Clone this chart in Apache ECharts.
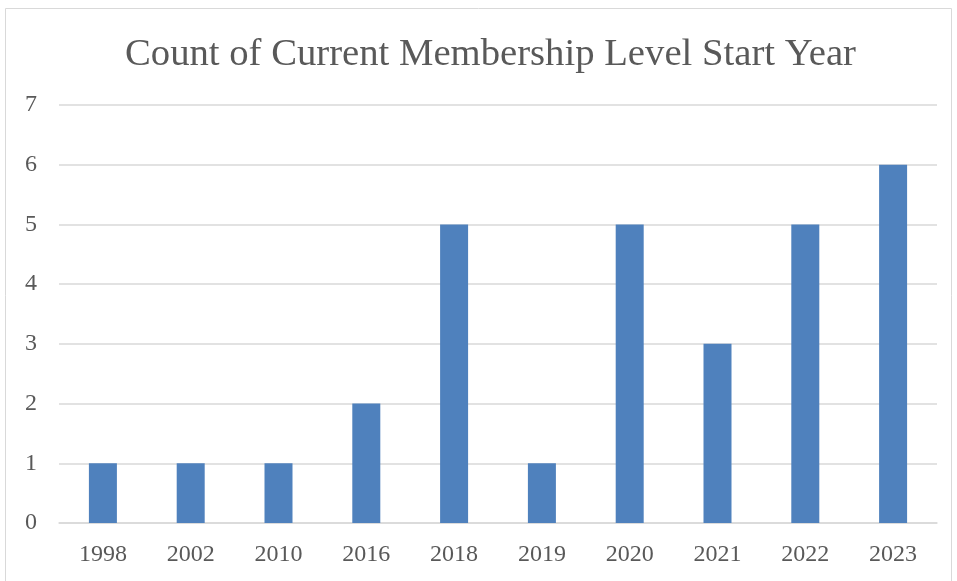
<!DOCTYPE html>
<html>
<head>
<meta charset="utf-8">
<script src="https://cdn.jsdelivr.net/npm/echarts@6/dist/echarts.min.js"></script>
<style>
  html, body { margin: 0; padding: 0; background: #fff; }
  #show_picture { width: 957px; height: 581px; }
</style>
</head>
<body>
<div id="show_picture"></div>
<script>
const years = ['1998', '2002', '2010', '2016', '2018', '2019', '2020', '2021', '2022', '2023'];
const counts = [1, 1, 1, 2, 5, 1, 5, 3, 5, 6];

let myChart = echarts.init(document.getElementById('show_picture'));
const font = 'Liberation Serif';

let option = {
    animation: false,
    graphic: [{
        type: 'rect',
        shape: { x: 5.5, y: 8.5, width: 946, height: 600 },
        style: { fill: 'none', stroke: '#d9d9d9', lineWidth: 1 }
    }],
    title: {
        text: 'Count of Current Membership Level Start Year',
        left: 120,
        top: 30,
        textStyle: { color: '#595959', fontFamily: font, fontWeight: 'normal', fontSize: 38.7 }
    },
    grid: { left: 59, right: 20, top: 105, bottom: 58 },
    xAxis: {
        type: 'category',
        data: years,
        axisLine: { lineStyle: { color: '#d9d9d9', width: 1.5 } },
        axisTick: { show: false },
        axisLabel: { color: '#595959', fontFamily: font, fontSize: 24, margin: 20 }
    },
    yAxis: {
        type: 'value',
        min: 0, max: 7, interval: 1,
        axisLine: { show: false },
        axisTick: { show: false },
        splitLine: { lineStyle: { color: '#d9d9d9', width: 1.5 } },
        axisLabel: { color: '#595959', fontFamily: font, fontSize: 24, margin: 22 }
    },
    series: [{
        type: 'bar',
        data: counts,
        barWidth: 28,
        itemStyle: { color: '#4f81bd' }
    }]
};

option && myChart.setOption(option);
</script>
</body>
</html>
